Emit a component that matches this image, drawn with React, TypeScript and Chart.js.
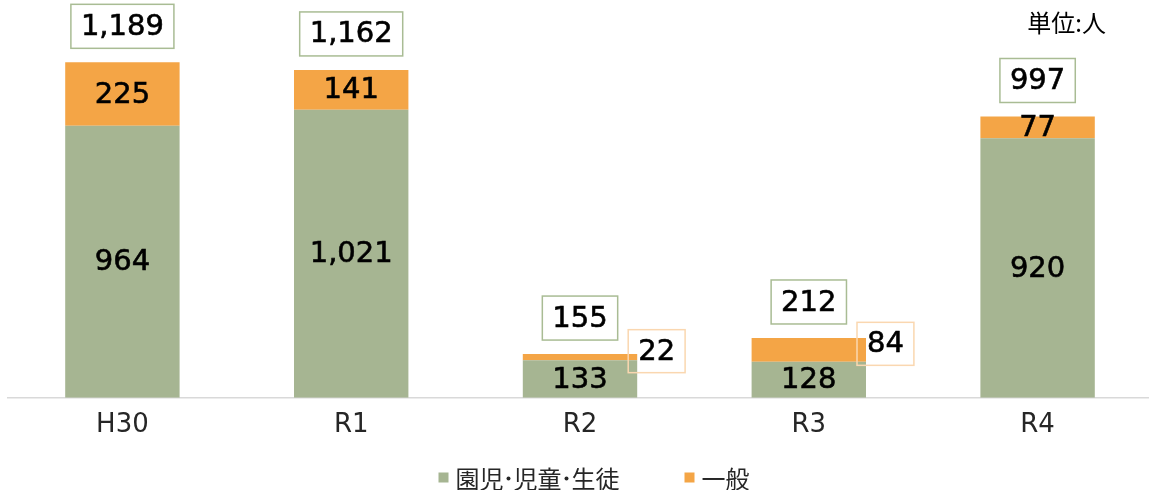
import React, { useEffect, useRef } from 'react';
import { Chart, registerables } from 'chart.js';

Chart.register(...registerables);

const categories = ['H30', 'R1', 'R2', 'R3', 'R4'];
const studentValues = [964, 1021, 133, 128, 920];
const generalValues = [225, 141, 22, 84, 77];
const outsideGeneralLabel = [false, false, true, true, false];
const seriesNames = ['園児・児童・生徒', '一般'];
const unitLabel = '単位:人';

const GREEN = '#A6B592';
const ORANGE = '#F4A546';
const TOTAL_BORDER = '#A9BC94';
const OUTSIDE_BORDER = '#FAD7B0';
const NUM_FONT = '"DejaVu Sans", sans-serif';
const CJK_FONT = '"Noto Sans CJK JP", sans-serif';

const fmt = (v: number) => v.toLocaleString('en-US');

// draws text with a narrow (proportional) middle dot, as in the original rendering
const DOT = '・';
const DOT_W = 10;
function measureLegend(ctx: CanvasRenderingContext2D, text: string) {
  const parts = text.split(DOT);
  return parts.reduce((s, p) => s + ctx.measureText(p).width, 0) + (parts.length - 1) * DOT_W;
}
function drawLegendText(ctx: CanvasRenderingContext2D, text: string, x: number, y: number) {
  const parts = text.split(DOT);
  let cx = x;
  parts.forEach((p, i) => {
    ctx.fillText(p, cx, y);
    cx += ctx.measureText(p).width;
    if (i < parts.length - 1) {
      ctx.beginPath();
      ctx.arc(cx + DOT_W / 2, y, 2, 0, Math.PI * 2);
      ctx.fill();
      cx += DOT_W;
    }
  });
}

function boldText(ctx: CanvasRenderingContext2D, txt: string, x: number, y: number) {
  ctx.fillStyle = '#000';
  ctx.strokeStyle = '#000';
  ctx.lineWidth = 0.6;
  ctx.fillText(txt, x, y);
  ctx.strokeText(txt, x, y);
}

const labelPlugin = {
  id: 'customLabels',
  afterDatasetsDraw(chart: any) {
    const ctx = chart.ctx;
    const m0 = chart.getDatasetMeta(0);
    const m1 = chart.getDatasetMeta(1);
    ctx.save();
    ctx.font = `29px ${NUM_FONT}`;
    ctx.textAlign = 'center';
    ctx.textBaseline = 'middle';
    categories.forEach((_, i) => {
      const b0 = m0.data[i];
      const b1 = m1.data[i];
      boldText(ctx, fmt(studentValues[i]), b0.x, (b0.y + b0.base) / 2 + 1);

      if (outsideGeneralLabel[i]) {
        const txt = fmt(generalValues[i]);
        const w = ctx.measureText(txt).width + 20;
        const h = 43;
        const right = b1.x + b1.width / 2;
        const left = right - 9;
        const cy = (b1.y + b1.base) / 2 - 6;
        ctx.strokeStyle = OUTSIDE_BORDER;
        ctx.lineWidth = 1.5;
        ctx.strokeRect(left, cy - h / 2, w, h);
        boldText(ctx, txt, left + w / 2, cy + 1);
      } else {
        boldText(ctx, fmt(generalValues[i]), b1.x, (b1.y + b1.base) / 2 + 1);
      }

      const total = studentValues[i] + generalValues[i];
      const ttxt = fmt(total);
      const tw = ctx.measureText(ttxt).width + 20;
      const th = 44;
      const boxBottom = b1.y - 14;
      ctx.strokeStyle = TOTAL_BORDER;
      ctx.lineWidth = 1.5;
      ctx.strokeRect(b1.x - tw / 2, boxBottom - th, tw, th);
      boldText(ctx, ttxt, b1.x, boxBottom - th / 2 + 1);
    });
    ctx.restore();
  },
  afterDraw(chart: any) {
    const ctx = chart.ctx;
    ctx.save();
    // legend
    ctx.font = `24px ${CJK_FONT}`;
    ctx.textBaseline = 'middle';
    ctx.textAlign = 'left';
    const colors = [GREEN, ORANGE];
    const box = 10;
    const gapText = 7;
    const gapItem = 65;
    const widths = seriesNames.map((n) => measureLegend(ctx, n));
    const totalW = widths.reduce((s, w) => s + box + gapText + w, 0) + gapItem * (seriesNames.length - 1);
    let x = chart.width / 2 + 18 - totalW / 2;
    const y = 477.5;
    seriesNames.forEach((n, i) => {
      ctx.fillStyle = colors[i];
      ctx.fillRect(x, y - box / 2, box, box);
      ctx.fillStyle = '#262626';
      drawLegendText(ctx, n, x + box + gapText, y + 1);
      x += box + gapText + widths[i] + gapItem;
    });
    // unit label
    ctx.font = `24px ${CJK_FONT}`;
    ctx.textAlign = 'right';
    ctx.fillStyle = '#000';
    ctx.fillText(unitLabel, 1106, 23);
    ctx.restore();
  },
};

export default function App() {
  const ref = useRef<HTMLCanvasElement | null>(null);
  useEffect(() => {
    document.body.style.margin = '0';
    if (!ref.current) return;
    const chart = new Chart(ref.current, {
      type: 'bar',
      data: {
        labels: categories,
        datasets: [
          {
            label: seriesNames[0],
            data: studentValues,
            backgroundColor: GREEN,
            barPercentage: 0.5,
            categoryPercentage: 1.0,
          },
          {
            label: seriesNames[1],
            data: generalValues,
            backgroundColor: ORANGE,
            barPercentage: 0.5,
            categoryPercentage: 1.0,
          },
        ],
      },
      options: {
        animation: false,
        responsive: false,
        maintainAspectRatio: false,
        layout: { padding: { left: 8, right: 0, top: 31, bottom: 37 } },
        plugins: { legend: { display: false }, tooltip: { enabled: false } },
        scales: {
          x: {
            stacked: true,
            grid: { display: false, drawTicks: false },
            border: { display: true, color: '#D9D9D9', width: 1.5 },
            ticks: { padding: 12, color: '#262626', font: { family: 'DejaVu Sans', size: 26 } },
          },
          y: { stacked: true, display: false, min: 0, max: 1300 },
        },
      },
      plugins: [labelPlugin],
    });
    return () => chart.destroy();
  }, []);
  return (
    <div style={{ width: 1149, height: 490, overflow: 'hidden' }}>
      <canvas ref={ref} width={1152} height={490} style={{ display: 'block' }} />
    </div>
  );
}
